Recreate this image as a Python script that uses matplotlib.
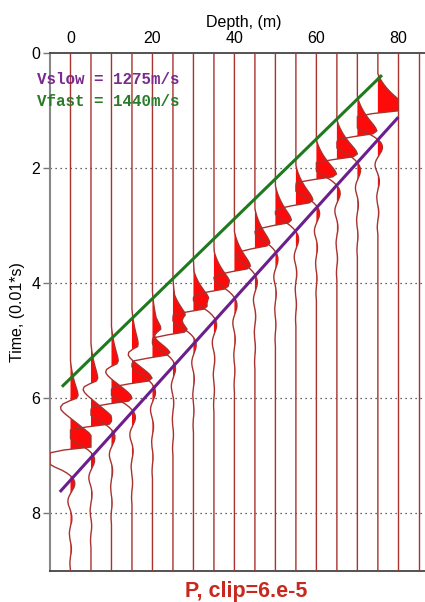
import numpy as np
import matplotlib
matplotlib.use('Agg')
import matplotlib.pyplot as plt

# ---------------- data ----------------
depths = [0, 5, 10, 15, 20, 25, 30, 35, 40, 45, 50, 55, 60, 65, 70, 75, 80, 85]
# main (slow) arrival: time of positive peak (0.01 s) and amplitude (trace-spacing units, before clip)
main_time = [6.78, 6.38, 6.02, 5.63, 5.22, 4.82, 4.42, 4.06, 3.70, 3.32, 2.92, 2.54, 2.12, 1.76, 1.34, 0.94, 0.0, 0.0]
main_amp = [1.40, 1.10, 0.97, 0.95, 0.93, 0.90, 0.86, 0.80, 0.78, 0.73, 0.78, 0.83, 0.98, 1.00, 0.95, 1.40, 0.0, 0.0]
# weak precursor arrival
pre_time = [5.96, 5.67, 5.33, 5.03, 4.74, 4.50, 4.22, 3.88, 0, 0, 0, 0, 0, 0, 0, 0, 0, 0]
pre_amp = [0.37, 0.33, 0.33, 0.30, 0.25, 0.20, 0.15, 0.10, 0, 0, 0, 0, 0, 0, 0, 0, 0, 0]
wavelet = [0.00, 0.04, 0.09, 0.15, 0.22, 0.30, 0.39, 0.49, 0.60, 0.72, 0.84, 0.94, 1.00,
           0.80, -0.20, -1.00, -1.30, -1.25, -1.05, -0.80, -0.55, -0.32, -0.14, 0.00,
           0.10, 0.15, 0.16, 0.13, 0.07, 0.01, -0.05, -0.09, -0.10, -0.08, -0.04, 0.00,
           0.03, 0.05, 0.05, 0.04, 0.01, -0.01, -0.03, -0.04, -0.03, -0.02, 0.00,
           0.02, 0.03, 0.03, 0.02, 0.00, -0.01, -0.02, -0.02, -0.01, 0.00]
wavelet_start = -0.60
sample_step = 0.05
trace_spacing = 5.0
clip = 1.0

# moveout lines
fast_depth = [-2.1, 76.0]
fast_time = [5.80, 0.38]
slow_depth = [-2.6, 80.0]
slow_time = [7.63, 1.11]

ytick_vals = [0, 2, 4, 6, 8]
xtick_vals = [0, 20, 40, 60, 80]

# ---------------- figure ----------------
W, H = 425, 602
fig = plt.figure(figsize=(W / 100, H / 100), dpi=100)
ax = fig.add_axes([50 / W, 1 - 570.7 / H, 375 / W, (570.7 - 53.3) / H])

nsamp = int(round(9.0 / sample_step)) + 1
t = np.arange(nsamp) * sample_step
wav = np.array(wavelet)

trace_color = '#a8322d'
for d, mt, ma, pt, pa in zip(depths, main_time, main_amp, pre_time, pre_amp):
    a = np.zeros(nsamp)
    for tt, aa in ((mt, ma), (pt, pa)):
        if aa == 0:
            continue
        i0 = int(round((tt + wavelet_start) / sample_step))
        for k, w in enumerate(wav):
            i = i0 + k
            if 0 <= i < nsamp:
                a[i] += aa * w
    a = np.clip(a, -clip, clip)
    x = d + a * trace_spacing
    ax.fill_betweenx(t, d, x, where=a > 0, interpolate=True, color='#ff0a0a', lw=0, zorder=2)
    ax.plot(x, t, color=trace_color, lw=1.0, zorder=3)

ax.plot(fast_depth, fast_time, color='#1f7a1f', lw=2.2, zorder=4, solid_capstyle='butt')
ax.plot(slow_depth, slow_time, color='#6a1f8c', lw=2.2, zorder=4, solid_capstyle='butt')

ax.set_xlim(-5, 86.5)
ax.set_ylim(9, 0)

ax.xaxis.tick_top()
ax.xaxis.set_label_position('top')
ax.set_xticks(xtick_vals)
ax.set_yticks(ytick_vals)
ax.tick_params(axis='x', length=0, pad=5, labelsize=11.5)
ax.tick_params(axis='y', length=5, width=1, color='#777777', pad=2, labelsize=11.5)
for lab in ax.get_xticklabels() + ax.get_yticklabels():
    lab.set_fontfamily('Liberation Sans')

for yv in ytick_vals[1:]:
    ax.axhline(yv, color='#333333', lw=0.9, ls=(0, (1, 3)), zorder=1)

ax.spines['right'].set_visible(False)
ax.spines['left'].set_color('#888888')
ax.spines['left'].set_linewidth(1.5)
ax.spines['top'].set_color('#444444')
ax.spines['top'].set_linewidth(1.3)
ax.spines['bottom'].set_color('#444444')
ax.spines['bottom'].set_linewidth(1.3)

fig.text(244 / W, 1 - 22 / H, 'Depth, (m)', ha='center', va='center',
         fontsize=11.5, family='Liberation Sans')
fig.text(18 / W, 1 - 312 / H, 'Time, (0.01*s)', ha='center', va='center',
         rotation=90, fontsize=11.5, family='Liberation Sans')
fig.text(246 / W, 1 - 591 / H, 'P, clip=6.e-5', ha='center', va='center',
         fontsize=15.5, fontweight='bold', color='#c8281e', family='Liberation Sans')
fig.text(37 / W, 1 - 79 / H, 'Vslow = 1275m/s', ha='left', va='center',
         fontsize=11.4, fontweight='bold', color='#7a2a8c', family='Liberation Mono')
fig.text(37 / W, 1 - 101.5 / H, 'Vfast = 1440m/s', ha='left', va='center',
         fontsize=11.4, fontweight='bold', color='#2a7a2a', family='Liberation Mono')

fig.savefig('out.png', dpi=100)
